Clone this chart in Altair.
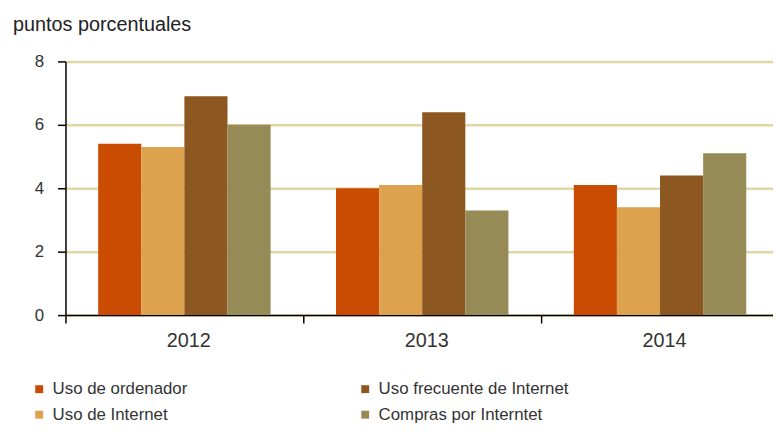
import altair as alt
import pandas as pd

years = ["2012", "2013", "2014"]
series = ["Uso de ordenador", "Uso de Internet", "Uso frecuente de Internet", "Compras por Interntet"]
ordenador = [5.4, 4.0, 4.1]
internet = [5.3, 4.1, 3.4]
frecuente = [6.9, 6.4, 4.4]
compras = [6.0, 3.3, 5.1]
colors = ["#C94C02", "#DDA24E", "#8C5720", "#968B56"]
y_ticks = [0, 2, 4, 6, 8]

values = dict(zip(series, [ordenador, internet, frecuente, compras]))
rows = []
for s in series:
    for y, v in zip(years, values[s]):
        rows.append({"anio": y, "serie": s, "valor": v})
df = pd.DataFrame(rows)

FONT = "Liberation Sans"

chart = alt.Chart(df).mark_bar().encode(
    x=alt.X("anio:N", sort=years,
            scale=alt.Scale(range=[0, 720], paddingInner=0.275, paddingOuter=0.1375),
            axis=alt.Axis(title=None, labelAngle=0, domainColor="#000", domainWidth=1.5,
                          tickOffset=-120, labelOffset=124,
                          tickColor="#000", tickWidth=1.5, tickSize=8,
                          labelPadding=8, labelFontSize=20, labelColor="#333", labelFont=FONT,
                          grid=False)),
    xOffset=alt.XOffset("serie:N", sort=series, scale=alt.Scale(paddingInner=0, paddingOuter=0)),
    y=alt.Y("valor:Q", scale=alt.Scale(domain=[0, 8], nice=False),
            axis=alt.Axis(title=None, values=y_ticks, domainColor="#000", domainWidth=1.5,
                          tickColor="#000", tickWidth=1.5, tickSize=8, labelPadding=14,
                          labelFontSize=17, labelColor="#333", labelFont=FONT,
                          gridColor="#E3D6A5", gridWidth=2.5)),
    color=alt.Color("serie:N",
                    scale=alt.Scale(domain=series, range=colors),
                    legend=alt.Legend(title=None, orient="none", legendX=-35, legendY=322,
                                      columns=2, columnPadding=170, rowPadding=8,
                                      symbolType="square", symbolSize=64, symbolStrokeWidth=0,
                                      labelFontSize=17, labelColor="#333", labelFont=FONT,
                                      labelOffset=5, labelLimit=400)),
).properties(
    width=714, height=256,
    title=alt.TitleParams("puntos porcentuales", anchor="start", frame="group", dx=-53,
                          offset=18, fontSize=20, fontWeight="normal", color="#222", font=FONT),
    autosize=alt.AutoSizeParams(type="none"),
    padding={"left": 58, "top": 52, "right": 0, "bottom": 108},
).configure_view(stroke=None)

chart.save("out.html", embed_options={"renderer": "svg", "actions": False})
